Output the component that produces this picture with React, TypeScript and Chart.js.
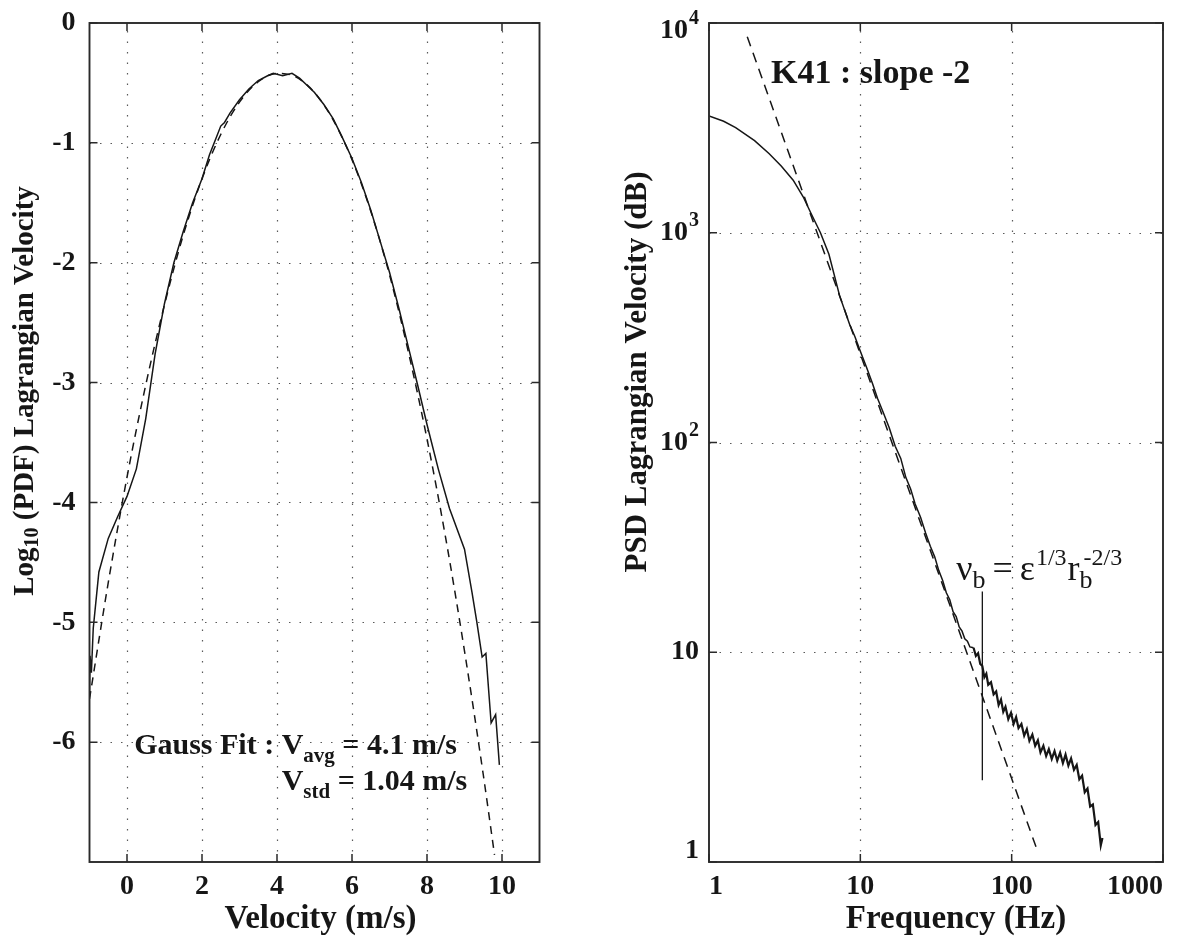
import React, { useEffect, useRef } from 'react';
import { Chart, registerables } from 'chart.js';

Chart.register(...registerables);

const SERIF = '"Liberation Serif", "Times New Roman", Times, serif';
const INK = '#161616';

// ---------- Left panel: PDF of Lagrangian velocity ----------
const pdfVelocity = [-1.0, -0.985, -0.95, -0.9, -0.75, -0.5, -0.25, 0, 0.25, 0.5, 0.75, 1.0, 1.25, 1.5, 1.75, 2.0, 2.2, 2.35, 2.5, 2.6, 2.75, 3.0, 3.25, 3.5, 3.75, 3.9, 4.15, 4.4, 4.6, 4.8, 5.0, 5.25, 5.5, 5.75, 6.0, 6.25, 6.5, 6.75, 7.0, 7.25, 7.5, 7.75, 8.0, 8.3, 8.6, 9.0, 9.2, 9.33, 9.47, 9.57, 9.71, 9.83, 9.93];
const pdfLog = [-5.62, -5.28, -5.42, -5.05, -4.58, -4.3, -4.12, -3.95, -3.72, -3.3, -2.76, -2.34, -2.0, -1.74, -1.5, -1.3, -1.1, -0.98, -0.86, -0.83, -0.75, -0.64, -0.55, -0.48, -0.44, -0.42, -0.44, -0.42, -0.46, -0.52, -0.58, -0.68, -0.8, -0.96, -1.13, -1.33, -1.56, -1.82, -2.08, -2.38, -2.7, -3.02, -3.35, -3.72, -4.05, -4.39, -4.75, -5.0, -5.29, -5.26, -5.84, -5.77, -6.19];
const fitVelocity = [-1, -0.5, 0, 0.5, 1, 1.5, 2, 2.5, 3, 3.5, 4, 4.5, 5, 5.5, 6, 6.5, 7, 7.5, 8, 8.5, 9, 9.5, 9.8];
const fitLog = [-5.64, -4.67, -3.79, -3.02, -2.35, -1.77, -1.3, -0.93, -0.66, -0.49, -0.42, -0.45, -0.58, -0.81, -1.14, -1.57, -2.1, -2.74, -3.47, -4.3, -5.24, -6.27, -6.94];
const leftXTicks = [0, 2, 4, 6, 8, 10];
const leftYTicks = [-6, -5, -4, -3, -2, -1, 0];
const leftXGrid = [0, 2, 4, 6, 8, 10];
const leftYGrid = [-6, -5, -4, -3, -2, -1];

// ---------- Right panel: PSD of Lagrangian velocity ----------
const psdFreq = [1, 1.25, 1.5, 2, 2.5, 3, 3.6, 4.2, 4.7, 5.45, 6.2, 7.3, 8.5, 9.2, 10, 11, 12, 13, 14, 15.5, 17, 18.5, 20, 21.5, 23, 25, 27, 29, 31, 33, 35, 37, 39, 41, 43, 45, 47, 49, 51, 53, 56, 58, 60, 62, 64, 66, 68, 70, 73, 76, 79, 82, 85, 88, 91, 95, 99, 103, 107, 111, 116, 121, 126, 131, 137, 143, 149, 155, 162, 169, 176, 184, 192, 200, 209, 218, 227, 237, 247, 258, 269, 280, 292, 304, 317, 330, 344, 358, 373, 388, 398];
const psdValue = [3600, 3400, 3170, 2750, 2380, 2080, 1780, 1480, 1245, 1000, 790, 500, 365, 320, 272, 228, 192, 162, 142, 118, 96, 84, 68, 60, 51, 44, 37, 32, 28.5, 24.5, 22, 19.2, 17.8, 15.6, 14.8, 13.2, 12.6, 11.6, 11.3, 10.6, 10.5, 9.6, 9.9, 8.8, 8.6, 7.6, 7.9, 7.0, 7.2, 6.3, 6.5, 5.6, 5.95, 5.2, 5.5, 4.8, 5.15, 4.55, 4.9, 4.35, 4.55, 4.0, 4.3, 3.78, 4.05, 3.58, 3.8, 3.33, 3.58, 3.2, 3.45, 3.1, 3.38, 3.04, 3.32, 2.96, 3.25, 2.88, 3.12, 2.75, 2.9, 2.48, 2.58, 2.15, 2.24, 1.84, 1.88, 1.5, 1.55, 1.2, 1.3];
const k41Freq = [1.79, 150];
const k41Value = [8600, 1.1];
const nuBFreq = [64, 64];
const nuBValue = [19.5, 2.45];
const rightXTicks = [1, 10, 100, 1000];
const rightYTicks = [1, 10, 100, 1000, 10000];
const rightYTickBase = ['1', '10', '10', '10', '10'];
const rightYTickExp = ['', '', '2', '3', '4'];
const rightXGrid = [10, 100];
const rightYGrid = [10, 100, 1000];

type Part = [string, number, number]; // text, font size, baseline shift

const font = (size: number, weight = 'bold') => ({ family: SERIF, size, weight: weight as any });

function put(ctx: CanvasRenderingContext2D, text: string, size: number, weight: string, x: number, y: number) {
  ctx.font = `${weight} ${size}px ${SERIF}`;
  ctx.fillText(text, x, y);
  return x + ctx.measureText(text).width;
}

function measureParts(ctx: CanvasRenderingContext2D, parts: Part[], weight: string) {
  let w = 0;
  for (const p of parts) {
    ctx.font = `${weight} ${p[1]}px ${SERIF}`;
    w += ctx.measureText(p[0]).width;
  }
  return w;
}

// draw a multi-size text centred at (cx, baseline cy), optionally rotated -90deg
function drawParts(ctx: CanvasRenderingContext2D, parts: Part[], cx: number, cy: number, rotate: boolean, weight = 'bold') {
  ctx.save();
  ctx.translate(cx, cy);
  if (rotate) ctx.rotate(-Math.PI / 2);
  ctx.textAlign = 'left';
  ctx.textBaseline = rotate ? 'middle' : 'alphabetic';
  let x = -measureParts(ctx, parts, weight) / 2;
  for (const p of parts) x = put(ctx, p[0], p[1], weight, x, p[2]);
  ctx.restore();
}

function framePlugin(xGrid: number[], yGrid: number[], xTicks: number[], yTicks: number[]) {
  return {
    id: 'frameGrid',
    beforeDatasetsDraw(chart: any) {
      const { ctx, chartArea: a } = chart;
      const xs = chart.scales.x;
      const ys = chart.scales.y;
      ctx.save();
      ctx.strokeStyle = '#5a5a5a';
      ctx.lineWidth = 1.2;
      ctx.setLineDash([1.5, 9]);
      for (const v of xGrid) {
        const px = Math.round(xs.getPixelForValue(v)) + 0.5;
        ctx.beginPath(); ctx.moveTo(px, a.bottom); ctx.lineTo(px, a.top); ctx.stroke();
      }
      for (const v of yGrid) {
        const py = Math.round(ys.getPixelForValue(v)) + 0.5;
        ctx.beginPath(); ctx.moveTo(a.left, py); ctx.lineTo(a.right, py); ctx.stroke();
      }
      ctx.restore();
    },
    afterDatasetsDraw(chart: any) {
      const { ctx, chartArea: a } = chart;
      const xs = chart.scales.x;
      const ys = chart.scales.y;
      ctx.save();
      ctx.setLineDash([]);
      ctx.strokeStyle = '#2a2a2a';
      ctx.lineWidth = 1.5;
      const L = 8;
      for (const v of xTicks) {
        const px = xs.getPixelForValue(v);
        ctx.beginPath();
        ctx.moveTo(px, a.bottom); ctx.lineTo(px, a.bottom - L);
        ctx.moveTo(px, a.top); ctx.lineTo(px, a.top + L);
        ctx.stroke();
      }
      for (const v of yTicks) {
        const py = ys.getPixelForValue(v);
        ctx.beginPath();
        ctx.moveTo(a.left, py); ctx.lineTo(a.left + L, py);
        ctx.moveTo(a.right, py); ctx.lineTo(a.right - L, py);
        ctx.stroke();
      }
      ctx.lineWidth = 1.9;
      ctx.strokeRect(a.left, a.top, a.right - a.left, a.bottom - a.top);
      ctx.restore();
    },
  };
}

const leftTextPlugin = {
  id: 'leftText',
  afterDatasetsDraw(chart: any) {
    const { ctx, chartArea: a } = chart;
    const xs = chart.scales.x;
    const ys = chart.scales.y;
    ctx.save();
    ctx.fillStyle = INK;
    ctx.textAlign = 'left';
    ctx.textBaseline = 'alphabetic';
    const x0 = xs.getPixelForValue(0.19);
    const y1 = ys.getPixelForValue(-6.1);
    const y2 = ys.getPixelForValue(-6.4);
    let x = put(ctx, 'Gauss Fit : ', 30, 'bold', x0, y1);
    const vx = x;
    x = put(ctx, 'V', 30, 'bold', x, y1);
    x = put(ctx, 'avg', 21, 'bold', x, y1 + 8);
    put(ctx, ' = 4.1 m/s', 30, 'bold', x, y1);
    x = put(ctx, 'V', 30, 'bold', vx, y2);
    x = put(ctx, 'std', 21, 'bold', x, y2 + 8);
    put(ctx, ' = 1.04 m/s', 30, 'bold', x, y2);
    // axis titles
    const midX = (a.left + a.right) / 2;
    drawParts(ctx, [['Velocity (m/s)', 33, 0]], midX + 6, a.bottom + 66, false);
    drawParts(ctx, [['Log', 29, 0], ['10', 20, 7], [' (PDF) Lagrangian Velocity', 29, 0]], 26, a.top + 368, true);
    ctx.restore();
  },
};

const rightTextPlugin = {
  id: 'rightText',
  afterDatasetsDraw(chart: any) {
    const { ctx, chartArea: a } = chart;
    const xs = chart.scales.x;
    const ys = chart.scales.y;
    ctx.save();
    ctx.fillStyle = INK;
    // y tick labels with superscripts
    rightYTicks.forEach((v, i) => {
      let py = ys.getPixelForValue(v);
      if (i === rightYTicks.length - 1) py += 8;
      if (i === 0) py -= 11;
      const base = rightYTickBase[i];
      const exp = rightYTickExp[i];
      ctx.textBaseline = 'middle';
      ctx.textAlign = 'left';
      ctx.font = `bold 28px ${SERIF}`;
      const wb = ctx.measureText(base).width;
      ctx.font = `bold 20px ${SERIF}`;
      const we = exp ? ctx.measureText(exp).width + 1 : 0;
      const right = a.left - 10;
      const x0 = right - wb - we;
      put(ctx, base, 28, 'bold', x0, py);
      if (exp) put(ctx, exp, 20, 'bold', x0 + wb + 1, py - 12);
    });
    // K41 annotation
    ctx.textAlign = 'left';
    ctx.textBaseline = 'alphabetic';
    put(ctx, 'K41 : slope -2', 34, 'bold', xs.getPixelForValue(2.57), ys.getPixelForValue(5175));
    // nu_b annotation
    const nx = xs.getPixelForValue(43);
    const ny = ys.getPixelForValue(22);
    let x = put(ctx, 'ν', 36, 'normal', nx, ny);
    x = put(ctx, 'b', 26, 'normal', x, ny + 8);
    x += 7;
    x = put(ctx, '=', 36, 'normal', x, ny);
    x += 7;
    x = put(ctx, 'ε', 36, 'normal', x, ny);
    x = put(ctx, '1/3', 24, 'normal', x + 1, ny - 15);
    x = put(ctx, 'r', 36, 'normal', x + 1, ny);
    put(ctx, 'b', 26, 'normal', x, ny + 8);
    put(ctx, '-2/3', 24, 'normal', x + 4, ny - 15);
    // axis titles
    const midX = (a.left + a.right) / 2;
    drawParts(ctx, [['Frequency (Hz)', 33, 0]], midX + 20, a.bottom + 66, false);
    drawParts(ctx, [['PSD Lagrangian Velocity (dB)', 31, 0]], 58, a.top + 349, true);
    ctx.restore();
  },
};

function leftConfig(): any {
  return {
    type: 'line',
    data: {
      datasets: [
        {
          label: 'PDF',
          data: pdfVelocity.map((x, i) => ({ x, y: pdfLog[i] })),
          borderColor: INK,
          borderWidth: 1.5,
          pointRadius: 0,
          fill: false,
        },
        {
          label: 'Gauss fit',
          data: fitVelocity.map((x, i) => ({ x, y: fitLog[i] })),
          borderColor: INK,
          borderWidth: 1.5,
          borderDash: [8, 6],
          pointRadius: 0,
          fill: false,
          cubicInterpolationMode: 'monotone',
        },
      ],
    },
    options: {
      responsive: false,
      animation: false,
      devicePixelRatio: 1,
      layout: { padding: { left: 0, top: 23, right: 40.5, bottom: 0 } },
      plugins: { legend: { display: false }, tooltip: { enabled: false } },
      scales: {
        x: {
          type: 'linear',
          min: -1,
          max: 11,
          grid: { display: false },
          border: { display: false },
          afterBuildTicks: (s: any) => { s.ticks = leftXTicks.map((v) => ({ value: v })); },
          afterFit: (s: any) => { s.height = 80; },
          ticks: { font: font(28), color: INK, padding: 0, maxRotation: 0, autoSkip: false, callback: (v: any) => String(v) },
          title: { display: false },
        },
        y: {
          type: 'linear',
          min: -7,
          max: 0,
          grid: { display: false },
          border: { display: false },
          afterBuildTicks: (s: any) => { s.ticks = leftYTicks.map((v) => ({ value: v })); },
          afterFit: (s: any) => { s.width = 89.5; },
          ticks: { font: font(28), color: INK, padding: 6, autoSkip: false, callback: (v: any) => String(v) },
          title: { display: false },
        },
      },
    },
    plugins: [framePlugin(leftXGrid, leftYGrid, leftXTicks, leftYTicks), leftTextPlugin],
  };
}

function rightConfig(): any {
  return {
    type: 'line',
    data: {
      datasets: [
        {
          label: 'PSD',
          data: psdFreq.map((x, i) => ({ x, y: psdValue[i] })),
          borderColor: INK,
          borderWidth: 1.5,
          pointRadius: 0,
          fill: false,
          segment: { borderWidth: (c: any) => (c.p0.parsed.x >= 55 ? 2.2 : 1.5) },
        },
        {
          label: 'K41 slope -2',
          data: k41Freq.map((x, i) => ({ x, y: k41Value[i] })),
          borderColor: INK,
          borderWidth: 1.5,
          borderDash: [10, 7],
          pointRadius: 0,
          fill: false,
        },
        {
          label: 'nu_b',
          data: nuBFreq.map((x, i) => ({ x, y: nuBValue[i] })),
          borderColor: INK,
          borderWidth: 1.3,
          pointRadius: 0,
          fill: false,
        },
      ],
    },
    options: {
      responsive: false,
      animation: false,
      devicePixelRatio: 1,
      layout: { padding: { left: 0, top: 23, right: 21, bottom: 0 } },
      plugins: { legend: { display: false }, tooltip: { enabled: false } },
      scales: {
        x: {
          type: 'logarithmic',
          min: 1,
          max: 1000,
          grid: { display: false },
          border: { display: false },
          afterBuildTicks: (s: any) => { s.ticks = rightXTicks.map((v) => ({ value: v })); },
          afterFit: (s: any) => { s.height = 80; },
          ticks: { font: font(28), color: INK, padding: 0, maxRotation: 0, autoSkip: false, align: 'inner', callback: (v: any) => String(v) },
          title: { display: false },
        },
        y: {
          type: 'logarithmic',
          min: 1,
          max: 10000,
          grid: { display: false },
          border: { display: false },
          afterBuildTicks: (s: any) => { s.ticks = rightYTicks.map((v) => ({ value: v })); },
          afterFit: (s: any) => { s.width = 129; },
          ticks: { display: false },
          title: { display: false },
        },
      },
    },
    plugins: [framePlugin(rightXGrid, rightYGrid, rightXTicks, rightYTicks), rightTextPlugin],
  };
}

export default function App() {
  const leftRef = useRef<HTMLCanvasElement>(null);
  const rightRef = useRef<HTMLCanvasElement>(null);
  useEffect(() => {
    const c1 = new Chart(leftRef.current as HTMLCanvasElement, leftConfig());
    const c2 = new Chart(rightRef.current as HTMLCanvasElement, rightConfig());
    return () => {
      c1.destroy();
      c2.destroy();
    };
  }, []);
  return (
    <div style={{ position: 'absolute', left: 0, top: 0, width: 1184, height: 942, background: '#fff' }}>
      <canvas ref={leftRef} width={580} height={942} style={{ position: 'absolute', left: 0, top: 0, width: 580, height: 942 }} />
      <canvas ref={rightRef} width={604} height={942} style={{ position: 'absolute', left: 580, top: 0, width: 604, height: 942 }} />
    </div>
  );
}
